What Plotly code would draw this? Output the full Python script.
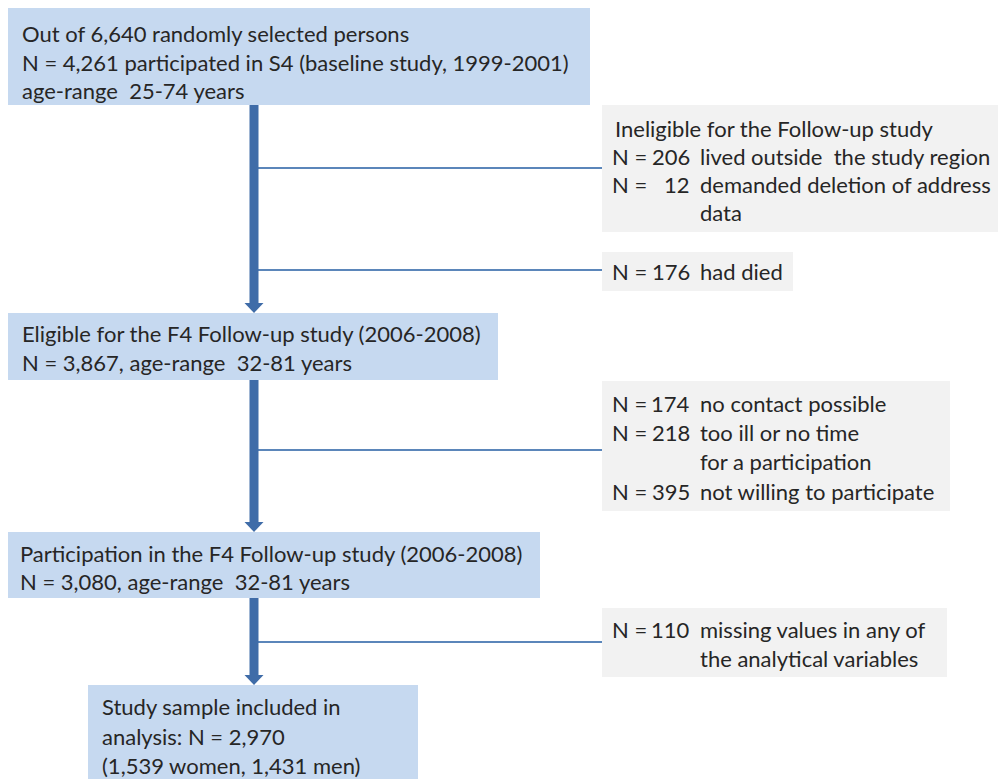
import plotly.graph_objects as go

# ---- data (flowchart counts and texts) ----
main_titles = [
    ["Out of 6,640 randomly selected persons",
     "N = 4,261 participated in S4 (baseline study, 1999-2001)",
     "age-range  25-74 years"],
    ["Eligible for the F4 Follow-up study (2006-2008)",
     "N = 3,867, age-range  32-81 years"],
    ["Participation in the F4 Follow-up study (2006-2008)",
     "N = 3,080, age-range  32-81 years"],
    ["Study sample included in",
     "analysis: N = 2,970",
     "(1,539 women, 1,431 men)"],
]
excl_heading = "Ineligible for the Follow-up study"
excl_counts = [[206, 12], [176], [174, 218, 395], [110]]
excl_reasons = [
    [["lived outside  the study region"], ["demanded deletion of address", "data"]],
    [["had died"]],
    [["no contact possible"], ["too ill or no time", "for a participation"], ["not willing to participate"]],
    [["missing values in any of", "the analytical variables"]],
]

# ---- layout geometry (pixels of the 1006x779 page) ----
W, H = 1006, 779
PAD = 8  # default page body margin
BLUE = "#c6d9f0"
GRAY = "#f2f2f2"
ARROW = "#3f6ca8"
LINE = "#5b86ba"
TXT = "#262626"
FONT = "Lato"
FS = 22

main_boxes = [(8, 8, 590, 105), (8, 313, 498, 380), (8, 532, 540, 598), (88, 685, 418, 779)]
main_line_y = [[33, 62, 90], [333, 362], [553, 581], [706, 736, 765]]
main_text_x = [20, 20, 18, 100]

excl_boxes = [(602, 105, 1006, 232), (602, 252, 793, 291), (602, 381, 950, 511), (602, 608, 947, 677)]
excl_line_y = [[[156], [184, 212]], [[271]], [[403], [432, 461], [491]], [[629, 658]]]
conn_y = [168, 270, 450, 642]
arrow_x = 254
arrow_segs = [(105, 313), (380, 532), (598, 685)]

fig = go.Figure()
shapes = []
annots = []

def add_text(x, y, s, anchor="left"):
    annots.append(dict(x=x, y=y, xref="x", yref="y", text=s, showarrow=False,
                       xanchor=anchor, yanchor="middle",
                       font=dict(family=FONT, size=FS, color=TXT)))

# connectors (behind boxes)
for cy in conn_y:
    shapes.append(dict(type="line", x0=arrow_x + 4, x1=602, y0=cy, y1=cy,
                       line=dict(color=LINE, width=2), layer="below"))

for (x0, y0, x1, y1) in main_boxes:
    shapes.append(dict(type="rect", x0=x0, y0=y0, x1=x1, y1=y1,
                       fillcolor=BLUE, line=dict(width=0), layer="below"))
for (x0, y0, x1, y1) in excl_boxes:
    shapes.append(dict(type="rect", x0=x0, y0=y0, x1=x1, y1=y1,
                       fillcolor=GRAY, line=dict(width=0), layer="below"))

# arrows
for (ya, yb) in arrow_segs:
    shapes.append(dict(type="rect", x0=arrow_x - 4.5, x1=arrow_x + 4.5, y0=ya, y1=yb - 9,
                       fillcolor=ARROW, line=dict(width=0)))
    shapes.append(dict(type="path",
                       path=f"M {arrow_x-9.5},{yb-10} L {arrow_x+9.5},{yb-10} L {arrow_x},{yb} Z",
                       fillcolor=ARROW, line=dict(width=0)))

# main box texts
for lines, ys, x in zip(main_titles, main_line_y, main_text_x):
    for s, y in zip(lines, ys):
        add_text(x, y, s)

# exclusion texts
add_text(613, 128, excl_heading)
for counts, reasons, ylines in zip(excl_counts, excl_reasons, excl_line_y):
    for n, rlines, ys in zip(counts, reasons, ylines):
        add_text(610, ys[0], "N =")
        add_text(692, ys[0], f"{n}", anchor="right")
        for s, y in zip(rlines, ys):
            add_text(698, y, s)

fig.update_layout(
    width=W - PAD, height=H - PAD, margin=dict(l=0, r=0, t=0, b=0),
    paper_bgcolor="white", plot_bgcolor="white",
    xaxis=dict(range=[PAD, W], visible=False, fixedrange=True),
    yaxis=dict(range=[H, PAD], visible=False, fixedrange=True),
    shapes=shapes, annotations=annots, showlegend=False,
)
fig.write_html("out.html")
